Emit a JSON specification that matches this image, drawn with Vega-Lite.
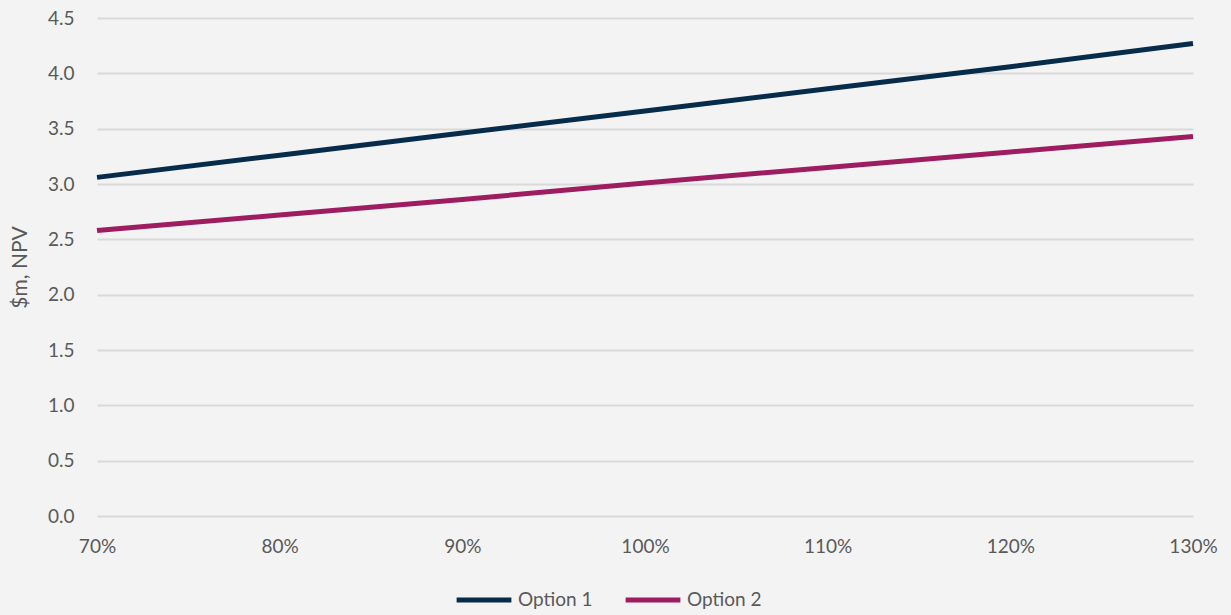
{
  "$schema": "https://vega.github.io/schema/vega-lite/v6.json",
  "width": 1096,
  "height": 498,
  "autosize": {"type": "none"},
  "padding": {"left": 97, "top": 18, "right": 38, "bottom": 99},
  "background": "#f3f3f3",
  "config": {
    "view": {"stroke": null},
    "font": "Lato",
    "axis": {"labelFont": "Lato", "titleFont": "Lato", "labelColor": "#595959", "titleColor": "#595959", "labelFontSize": 19, "titleFontSize": 21, "titleFontWeight": "normal"}
  },
  "data": {
    "values": [
      {"x": 0.7, "series": "Option 1", "npv": 3.06},
      {"x": 0.8, "series": "Option 1", "npv": 3.26},
      {"x": 0.9, "series": "Option 1", "npv": 3.46},
      {"x": 1.0, "series": "Option 1", "npv": 3.66},
      {"x": 1.1, "series": "Option 1", "npv": 3.86},
      {"x": 1.2, "series": "Option 1", "npv": 4.06},
      {"x": 1.3, "series": "Option 1", "npv": 4.27},
      {"x": 0.7, "series": "Option 2", "npv": 2.58},
      {"x": 0.8, "series": "Option 2", "npv": 2.72},
      {"x": 0.9, "series": "Option 2", "npv": 2.86},
      {"x": 1.0, "series": "Option 2", "npv": 3.01},
      {"x": 1.1, "series": "Option 2", "npv": 3.15},
      {"x": 1.2, "series": "Option 2", "npv": 3.29},
      {"x": 1.3, "series": "Option 2", "npv": 3.43}
    ]
  },
  "mark": {"type": "line", "strokeWidth": 5, "strokeCap": "butt"},
  "encoding": {
    "x": {
      "field": "x", "type": "quantitative",
      "scale": {"domain": [0.7, 1.3], "nice": false, "zero": false},
      "axis": {"title": null, "format": ".0%", "values": [0.7, 0.8, 0.9, 1.0, 1.1, 1.2, 1.3], "grid": false, "domain": false, "ticks": false, "labelFlush": false, "labelPadding": 21}
    },
    "y": {
      "field": "npv", "type": "quantitative",
      "scale": {"domain": [0, 4.5], "nice": false},
      "axis": {"title": "$m, NPV", "format": ".1f", "values": [0, 0.5, 1, 1.5, 2, 2.5, 3, 3.5, 4, 4.5], "grid": true, "gridColor": "#d9d9d9", "gridWidth": 2, "domain": false, "ticks": false, "labelPadding": 23, "titlePadding": 17}
    },
    "color": {
      "field": "series", "type": "nominal",
      "scale": {"domain": ["Option 1", "Option 2"], "range": ["#062b4b", "#9e1d60"]},
      "legend": {
        "title": null, "orient": "none", "direction": "horizontal",
        "legendX": 357, "legendY": 552, "padding": 0,
        "symbolType": "stroke", "symbolSize": 3000, "symbolStrokeWidth": 5,
        "labelFont": "Lato", "labelFontSize": 19, "labelColor": "#595959",
        "labelOffset": 4, "columnPadding": 22
      }
    }
  }
}
